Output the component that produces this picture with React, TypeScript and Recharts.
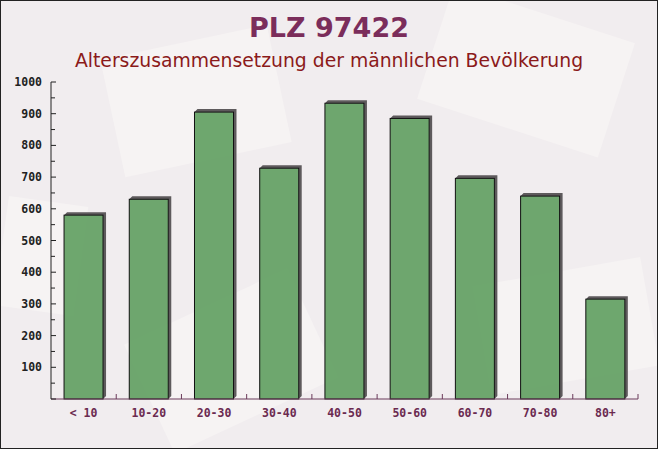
import { Bar, BarChart, XAxis, YAxis } from "recharts";

const categories = ["< 10", "10-20", "20-30", "30-40", "40-50", "50-60", "60-70", "70-80", "80+"];
const males = [580, 630, 905, 728, 933, 885, 696, 640, 315];
const yTicks = [0, 50, 100, 150, 200, 250, 300, 350, 400, 450, 500, 550, 600, 650, 700, 750, 800, 850, 900, 950, 1000];

const rows = categories.map((c, i) => ({ age: c, value: males[i] }));

const MONO = "'DejaVu Sans Mono', monospace";

// bar with a small grey "depth" to the top right
function DepthBar({ x, y, width, height }: any) {
  if (width == null || height == null || height <= 0) return null;
  const d = 3;
  return (
    <g>
      <polygon
        points={`${x},${y} ${x + d},${y - d} ${x + width + d},${y - d} ${x + width + d},${y + height - d} ${x + width},${y + height} ${x + width},${y}`}
        fill="#5e5a5c"
      />
      <rect x={x} y={y} width={width} height={height} fill="#66a266" fillOpacity={0.95} stroke="#111" strokeWidth={1} />
    </g>
  );
}

// tickSize/tickMargin are 0, so x is the axis line itself
function YTick({ x, y, payload }: any) {
  const v = payload.value;
  const major = v % 100 === 0;
  return (
    <g>
      <line x1={x} x2={x + (major ? 5 : 4)} y1={y} y2={y} stroke="#222" />
      {major && v > 0 && (
        <text x={x - 9} y={y} dy={4} textAnchor="end" fontFamily={MONO} fontWeight="bold" fontSize={11.5} fill="#222">
          {v}
        </text>
      )}
    </g>
  );
}

function XTick({ x, y, payload, width }: any) {
  const half = width / categories.length / 2;
  return (
    <g>
      <line x1={x + half} x2={x + half} y1={y} y2={y - 5} stroke="#6b3a5a" />
      <text x={x} y={y} dy={18} textAnchor="middle" fontFamily={MONO} fontWeight="bold" fontSize={11.5} fill="#6b2a50">
        {payload.value}
      </text>
    </g>
  );
}

export default function App() {
  return (
    <div style={{ position: "absolute", left: 0, top: 0, width: 658, height: 449 }}>
      <div
        style={{
          position: "absolute",
          inset: 0,
          background: "#f1edef",
          border: "1px solid #222",
          boxSizing: "border-box",
          overflow: "hidden",
        }}
      >
        <div style={{ position: "absolute", left: 110, top: 40, width: 170, height: 120, background: "#f6f3f3", transform: "rotate(-12deg)" }} />
        <div style={{ position: "absolute", left: 430, top: 10, width: 190, height: 120, background: "#f6f3f3", transform: "rotate(18deg)" }} />
        <div style={{ position: "absolute", left: 140, top: 300, width: 180, height: 120, background: "#f6f3f3", transform: "rotate(-25deg)" }} />
        <div style={{ position: "absolute", left: 480, top: 270, width: 170, height: 110, background: "#f6f3f3", transform: "rotate(-10deg)" }} />
        <div style={{ position: "absolute", left: 0, top: 200, width: 80, height: 110, background: "#f6f3f3", transform: "rotate(8deg)" }} />
      </div>
      <div
        style={{
          position: "absolute",
          top: 12,
          width: 658,
          textAlign: "center",
          fontFamily: "'DejaVu Sans', sans-serif",
          fontWeight: "bold",
          fontSize: 27,
          color: "#7b2d5b",
        }}
      >
        PLZ 97422
      </div>
      <div
        style={{
          position: "absolute",
          top: 50,
          width: 658,
          textAlign: "center",
          fontFamily: "'DejaVu Sans', sans-serif",
          fontSize: 18.8,
          color: "#8b1a1a",
        }}
      >
        Alterszusammensetzung der männlichen Bevölkerung
      </div>
      <BarChart
        width={658}
        height={449}
        data={rows}
        margin={{ top: 82, right: 20, left: 0, bottom: 20 }}
        barCategoryGap="20%"
        style={{ position: "absolute", left: 0, top: 0 }}
      >
        <XAxis
          dataKey="age"
          interval={0}
          height={30}
          tickSize={0}
          tickMargin={0}
          tickLine={false}
          axisLine={{ stroke: "#6b3a5a" }}
          tick={<XTick />}
        />
        <YAxis
          width={51}
          domain={[0, 1000]}
          ticks={yTicks}
          interval={0}
          tickSize={0}
          tickMargin={0}
          tickLine={false}
          axisLine={{ stroke: "#222" }}
          tick={<YTick />}
        />
        <Bar dataKey="value" shape={<DepthBar />} isAnimationActive={false} />
      </BarChart>
    </div>
  );
}
